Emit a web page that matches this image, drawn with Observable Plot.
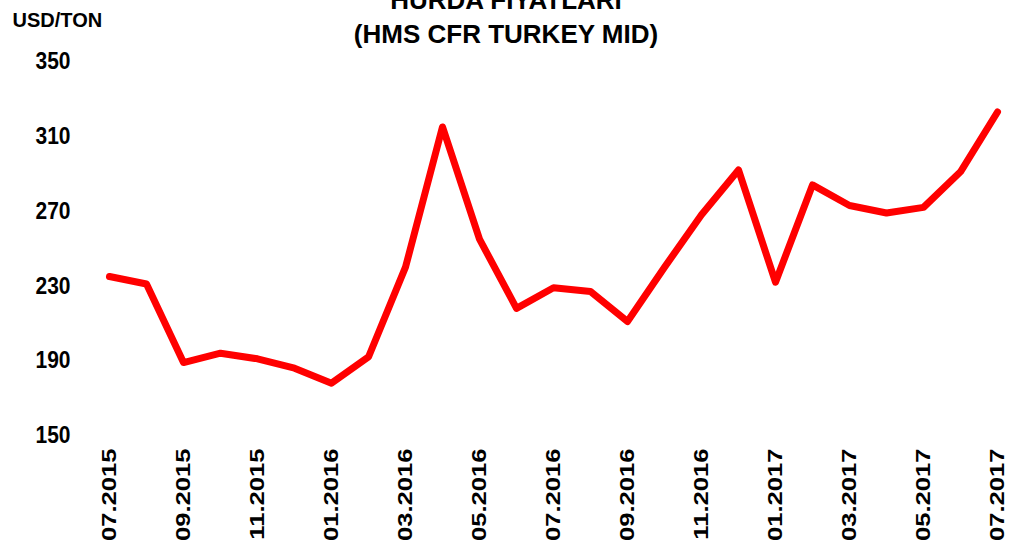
<!DOCTYPE html>
<html>
<head>
<meta charset="utf-8">
<script src="https://cdn.jsdelivr.net/npm/d3@7"></script>
<script src="https://cdn.jsdelivr.net/npm/@observablehq/plot@0.6"></script>
<style>
  body { margin: 0; background: #fff; }
  #chart { position: relative; width: 1012px; height: 541px; overflow: hidden; background: #fff; }
  #chart svg text { font-family: "Liberation Sans", Arial, sans-serif; font-weight: bold; fill: #000; }
</style>
</head>
<body>
<div id="chart"></div>
<script>
// ---- data ----
const months = ["07.2015","08.2015","09.2015","10.2015","11.2015","12.2015",
                "01.2016","02.2016","03.2016","04.2016","05.2016","06.2016",
                "07.2016","08.2016","09.2016","10.2016","11.2016","12.2016",
                "01.2017","02.2017","03.2017","04.2017","05.2017","06.2017","07.2017"];
const prices = [235, 231, 189, 194, 191, 186, 178, 192, 240, 315, 255, 218,
                229, 227, 211, 240, 268, 292, 232, 284, 273, 269, 272, 291, 323];
const xTicks = ["07.2015","09.2015","11.2015","01.2016","03.2016","05.2016","07.2016",
                "09.2016","11.2016","01.2017","03.2017","05.2017","07.2017"];
const yTicks = [150, 190, 230, 270, 310, 350];
const titleLines = ["HURDA FİYATLARI", "(HMS CFR TURKEY MID)"];
const unitLabel = "USD/TON";

const data = months.map((m, i) => ({month: m, price: prices[i]}));

const plot = Plot.plot({
  width: 1012,
  height: 541,
  marginTop: 61,
  marginBottom: 106,
  marginLeft: 105,
  marginRight: 12,
  style: {
    fontFamily: "'Liberation Sans', Arial, sans-serif",
    fontWeight: "bold",
    fontSize: "21px",
    color: "#000",
    background: "#fff",
    overflow: "visible"
  },
  x: {type: "point", domain: months, padding: 0, ticks: xTicks, tickSize: 0,
      tickPadding: 13, tickRotate: -90, label: null},
  y: {domain: [150, 350], ticks: yTicks, tickSize: 0, tickPadding: 35, label: null},
  marks: [
    Plot.line(data, {x: "month", y: "price", stroke: "#ff0000", strokeWidth: 7,
                     strokeLinejoin: "round", strokeLinecap: "round"})
  ]
});

document.getElementById("chart").appendChild(plot);
const svg = d3.select(plot);

// stretch tick labels like the reference (taller glyphs)
svg.selectAll('[aria-label="x-axis tick label"] text').each(function() {
  const t = d3.select(this).attr("transform") || "";
  d3.select(this).attr("transform", t + " scale(1.22,1)");
});
svg.selectAll('[aria-label="y-axis tick label"] text').each(function() {
  const t = d3.select(this).attr("transform") || "";
  d3.select(this).attr("transform", t + " scale(1,1.15)");
});

// titles and unit label
svg.append("text").attr("x", 506).attr("y", 8.5).attr("text-anchor", "middle")
  .style("font-size", "26px").text(titleLines[0]);
svg.append("text").attr("x", 506).attr("y", 43).attr("text-anchor", "middle")
  .style("font-size", "26px").text(titleLines[1]);
svg.append("text").attr("x", 12.5).attr("y", 26.5).attr("text-anchor", "start")
  .style("font-size", "20px").text(unitLabel);
</script>
</body>
</html>
